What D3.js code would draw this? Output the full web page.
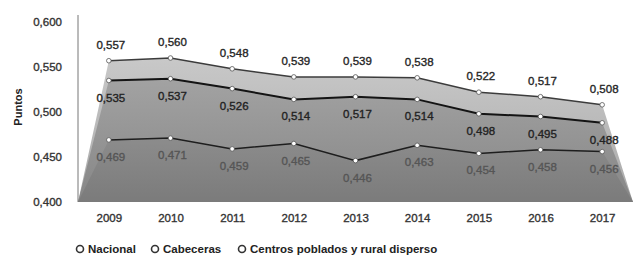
<!DOCTYPE html>
<html>
<head>
<meta charset="utf-8">
<script src="https://cdn.jsdelivr.net/npm/d3@7"></script>
<style>
  body { margin: 0; background: #fff; }
  svg { display: block; font-family: "Liberation Sans", Arial, sans-serif; }
</style>
</head>
<body>
<svg id="chart" width="633" height="261"></svg>
<script>
const years = ["2009", "2010", "2011", "2012", "2013", "2014", "2015", "2016", "2017"];
const nacional = [0.557, 0.560, 0.548, 0.539, 0.539, 0.538, 0.522, 0.517, 0.508];
const cabeceras = [0.535, 0.537, 0.526, 0.514, 0.517, 0.514, 0.498, 0.495, 0.488];
const centros = [0.469, 0.471, 0.459, 0.465, 0.446, 0.463, 0.454, 0.458, 0.456];
const yTicks = [0.4, 0.45, 0.5, 0.55, 0.6];
const seriesNames = ["Nacional", "Cabeceras", "Centros poblados y rural disperso"];

const plot = { left: 78, right: 633, top: 22, bottom: 202 };
const commaFormat = d => d3.format(".3f")(d).replace(".", ",");

const svg = d3.select("#chart");

const xScale = d3.scalePoint()
  .domain(years)
  .range([plot.left, plot.right])
  .padding(0.5);

const yScale = d3.scaleLinear()
  .domain([0.4, 0.6])
  .range([plot.bottom, plot.top]);

// gradients, one per area
const defs = svg.append("defs");
const grads = [
  { id: "g0", from: [55, "#c9c9c9"], to: [202, "#a9a9a9"] },
  { id: "g1", from: [80, "#a2a2a2"], to: [202, "#868686"] },
  { id: "g2", from: [135, "#8d8d8d"], to: [202, "#7b7b7b"] }
];
grads.forEach(g => {
  const lg = defs.append("linearGradient")
    .attr("id", g.id)
    .attr("gradientUnits", "userSpaceOnUse")
    .attr("x1", 0).attr("x2", 0)
    .attr("y1", g.from[0]).attr("y2", g.to[0]);
  lg.append("stop").attr("offset", 0).attr("stop-color", g.from[1]);
  lg.append("stop").attr("offset", 1).attr("stop-color", g.to[1]);
});

const series = [
  { name: seriesNames[0], values: nacional, fill: "url(#g0)", line: "#3c3c3c", lw: 1.5, label: "above", text: "#262626" },
  { name: seriesNames[1], values: cabeceras, fill: "url(#g1)", line: "#141414", lw: 2, label: "below", text: "#222" },
  { name: seriesNames[2], values: centros, fill: "url(#g2)", line: "#1e1e1e", lw: 1.5, label: "below", text: "#555" }
];

// area with slanted ends down to the plot corners
const areaPoints = values => [[plot.left, plot.bottom]]
  .concat(values.map((v, i) => [xScale(years[i]), yScale(v)]))
  .concat([[plot.right, plot.bottom]]);

series.forEach(s => {
  svg.append("path")
    .attr("d", d3.line()(areaPoints(s.values)) + "Z")
    .attr("fill", s.fill);
});

// heavier look for the blurred scan text
const heavy = (sel, color) => sel
  .attr("fill", color)
  .attr("stroke", color)
  .attr("stroke-width", 0.35);

// y axis
const yAxis = d3.axisLeft(yScale)
  .tickValues(yTicks)
  .tickFormat(commaFormat)
  .tickSize(0)
  .tickPadding(16);

const yg = svg.append("g")
  .attr("transform", `translate(${plot.left},0)`)
  .call(yAxis);
yg.select(".domain").remove();
yg.selectAll("text")
  .attr("font-size", "11.5px")
  .attr("font-family", "Liberation Sans, Arial, sans-serif")
  .call(heavy, "#333");

svg.append("line")
  .attr("x1", plot.left).attr("x2", plot.left)
  .attr("y1", 15).attr("y2", plot.bottom)
  .attr("stroke", "#777")
  .attr("stroke-width", 1);

// x axis
const xAxis = d3.axisBottom(xScale).tickSize(0).tickPadding(12);
const xg = svg.append("g")
  .attr("transform", `translate(0,${plot.bottom})`)
  .call(xAxis);
xg.select(".domain").remove();
xg.selectAll("text")
  .attr("font-size", "11.5px")
  .attr("font-family", "Liberation Sans, Arial, sans-serif")
  .call(heavy, "#333");

svg.append("text")
  .attr("transform", "translate(22,107) rotate(-90)")
  .attr("text-anchor", "middle")
  .attr("font-size", "11px")
  .attr("font-weight", "bold")
  .attr("fill", "#222")
  .text("Puntos");

// lines, markers, labels
series.forEach(s => {
  const pts = s.values.map((v, i) => [xScale(years[i]), yScale(v)]);
  svg.append("path")
    .attr("d", d3.line()(pts))
    .attr("fill", "none")
    .attr("stroke", s.line)
    .attr("stroke-width", s.lw);

  svg.append("g").selectAll("circle")
    .data(pts)
    .join("circle")
    .attr("cx", d => d[0])
    .attr("cy", d => d[1])
    .attr("r", 2.3)
    .attr("fill", "#fff")
    .attr("stroke", "#555")
    .attr("stroke-width", 0.8);

  svg.append("g").selectAll("text")
    .data(s.values)
    .join("text")
    .attr("x", (d, i) => xScale(years[i]) + 2)
    .attr("y", d => yScale(d) + (s.label === "above" ? -12 : 21))
    .attr("text-anchor", "middle")
    .attr("font-size", "11.5px")
    .call(heavy, s.text)
    .text(commaFormat);
});

// legend
const legendX = [80, 155, 242];
const legend = svg.append("g").selectAll("g")
  .data(seriesNames)
  .join("g")
  .attr("transform", (d, i) => `translate(${legendX[i]},249)`);

legend.append("circle")
  .attr("r", 3.5)
  .attr("fill", "#fff")
  .attr("stroke", "#333")
  .attr("stroke-width", 1.6);

legend.append("text")
  .attr("x", 8)
  .attr("dy", "0.35em")
  .attr("font-size", "11.5px")
  .attr("font-weight", "bold")
  .attr("fill", "#222")
  .text(d => d);
</script>
</body>
</html>
